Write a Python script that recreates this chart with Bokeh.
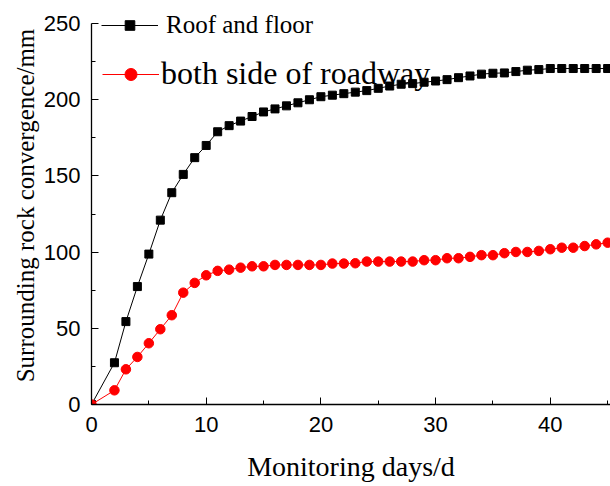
from bokeh.plotting import figure
from bokeh.models import Range1d, Legend, LegendItem, FixedTicker
from bokeh.embed import file_html
from bokeh.resources import INLINE

# Monitoring days
days = [0, 2, 3, 4, 5, 6, 7, 8, 9, 10, 11, 12, 13, 14, 15, 16, 17, 18, 19, 20,
        21, 22, 23, 24, 25, 26, 27, 28, 29, 30, 31, 32, 33, 34, 35, 36, 37, 38,
        39, 40, 41, 42, 43, 44, 45]

# Roof and floor convergence (mm)
roof_floor = [0, 27.4, 54.4, 77.4, 98.7, 121, 139, 151, 162, 170, 179, 183, 186,
              189, 192, 194, 196, 198, 200, 202, 203, 204, 205, 206, 207.5, 209,
              210.2, 210.6, 211.5, 212.3, 213.2, 214.5, 215.6, 216.8, 217.4,
              217.6, 218.5, 219.4, 219.8, 220.5, 220.5, 220.5, 220.5, 220.5, 220.5]

# Both sides of roadway convergence (mm)
both_sides = [0, 9.3, 23.1, 31.2, 40.2, 49.4, 58.6, 73.4, 79.8, 84.8, 87.7, 88.5,
              89.8, 90.7, 90.7, 91.6, 91.6, 91.6, 91.6, 91.6, 92.5, 92.5, 92.7,
              93.8, 93.8, 93.8, 93.8, 93.8, 94.7, 94.7, 96.0, 96.0, 96.9, 98.0,
              98.0, 99.3, 100.1, 100.1, 100.8, 101.9, 102.9, 102.9, 104.0, 105.1,
              106.2]

series_names = ["Roof and floor", "both side of roadway"]
x_ticks = [0, 10, 20, 30, 40]
y_ticks = [0, 50, 100, 150, 200, 250]

p = figure(width=610, height=486, output_backend="svg", toolbar_location=None,
           x_range=Range1d(0, 45.25), y_range=Range1d(0, 261.2),
           min_border_left=91, min_border_right=0, min_border_top=6,
           min_border_bottom=82)
p.outline_line_color = None
p.xgrid.visible = False
p.ygrid.visible = False
p.background_fill_color = "white"
p.border_fill_color = "white"

l1 = p.line(days, roof_floor, line_color="black", line_width=1)
s1 = p.scatter(days, roof_floor, marker="square", size=8, fill_color="black",
               line_color="black")
l2 = p.line(days, both_sides, line_color="red", line_width=1)
s2 = p.scatter(days, both_sides, marker="circle", size=9.5, fill_color="red",
               line_color="red")

for ax in (p.xaxis[0], p.yaxis[0]):
    ax.axis_line_color = "black"
    ax.axis_line_width = 1.3
    ax.major_tick_line_color = "black"
    ax.minor_tick_line_color = "black"
    ax.major_tick_in = 7
    ax.major_tick_out = 0
    ax.minor_tick_in = 4
    ax.minor_tick_out = 0
    ax.major_label_text_font = "Liberation Sans"
    ax.major_label_text_font_size = "22px"
    ax.major_label_text_color = "black"
    ax.axis_label_text_font = "Liberation Serif"
    ax.axis_label_text_font_style = "normal"
    ax.axis_label_text_color = "black"

p.xaxis[0].ticker = FixedTicker(ticks=x_ticks, minor_ticks=[5, 15, 25, 35, 45])
p.yaxis[0].ticker = FixedTicker(ticks=y_ticks, minor_ticks=[25, 75, 125, 175, 225])
p.yaxis[0].bounds = (0, 250)
p.xaxis[0].major_label_standoff = 12
p.yaxis[0].major_label_standoff = 11
p.xaxis[0].axis_label = "Monitoring days/d"
p.xaxis[0].axis_label_text_font_size = "28px"
p.xaxis[0].axis_label_standoff = 16
p.yaxis[0].axis_label = "Surrounding rock convergence/mm"
p.yaxis[0].axis_label_text_font_size = "25px"
p.yaxis[0].axis_label_standoff = 2

leg1 = Legend(items=[LegendItem(label=series_names[0], renderers=[l1, s1])],
              location=(10, 365), glyph_width=57, glyph_height=24,
              label_standoff=8, padding=0, margin=0, border_line_color=None,
              background_fill_alpha=0, label_text_font="Liberation Serif",
              label_text_font_size="25px", label_height=24,
              label_text_color="black")
leg2 = Legend(items=[LegendItem(label=series_names[1], renderers=[l2, s2])],
              location=(11, 312), glyph_width=57, glyph_height=30,
              label_standoff=2, padding=0, margin=0, border_line_color=None,
              background_fill_alpha=0, label_text_font="Liberation Serif",
              label_text_font_size="32px", label_height=30,
              label_text_color="black")
p.add_layout(leg1, "center")
p.add_layout(leg2, "center")

open("out.html", "w").write(file_html(p, INLINE))
